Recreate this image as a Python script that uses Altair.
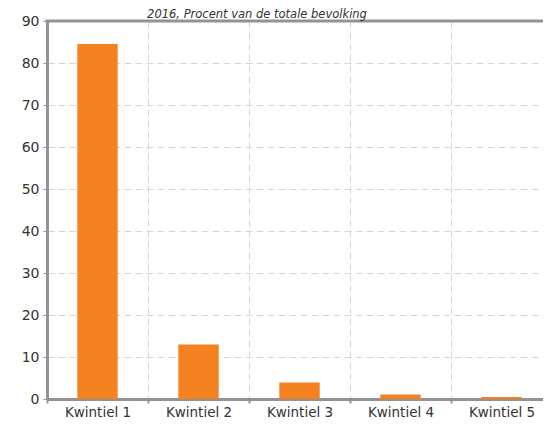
import altair as alt
import pandas as pd

categories = ["Kwintiel 1", "Kwintiel 2", "Kwintiel 3", "Kwintiel 4", "Kwintiel 5"]
values = [84.5, 13.0, 3.9, 1.1, 0.5]
subtitle = "2016, Procent van de totale bevolking"
y_ticks = [0, 10, 20, 30, 40, 50, 60, 70, 80, 90]

df = pd.DataFrame({"cat": categories, "val": values})

FONT = "DejaVu Sans"
AXIS_GRAY = "#939393"
GRID_GRAY = "#d6d6d6"
TEXT = "#333333"
HALF_GAP = 30.3  # half of the inner band padding (0.3 * step of 101px)

bars = alt.Chart(df).mark_bar(color="#F58220").encode(
    x=alt.X("cat:N", sort=categories, title=None,
            scale=alt.Scale(paddingInner=0.6, paddingOuter=0.3, range=[0, 505]),
            axis=alt.Axis(labelAngle=0, bandPosition=0, tickOffset=-HALF_GAP,
                          labelOffset=HALF_GAP, grid=True,
                          gridDash=[7, 4], gridColor=GRID_GRAY, gridWidth=1,
                          domainColor=AXIS_GRAY, domainWidth=3,
                          tickColor=AXIS_GRAY, tickWidth=2, tickSize=4,
                          labelFont=FONT, labelFontSize=13.5, labelColor=TEXT,
                          labelPadding=2)),
    y=alt.Y("val:Q", title=None,
            scale=alt.Scale(domain=[0, 90], nice=False),
            axis=alt.Axis(values=y_ticks, grid=True, gridDash=[7, 4],
                          gridColor=GRID_GRAY, gridWidth=1,
                          domainColor=AXIS_GRAY, domainWidth=3,
                          tickColor=AXIS_GRAY, tickWidth=1, tickSize=4,
                          labelFont=FONT, labelFontSize=14, labelColor=TEXT,
                          labelPadding=4)),
)

one = pd.DataFrame({"t": [subtitle]})
top_border = alt.Chart(one).mark_rule(color=AXIS_GRAY, strokeWidth=3).encode(
    x=alt.value(-1.5), x2=alt.value(505), y=alt.value(0)
)

title = alt.Chart(one).mark_text(
    font=FONT, fontSize=11.5, fontStyle="italic", color=TEXT,
    baseline="alphabetic", align="center"
).encode(text="t:N", x=alt.value(210), y=alt.value(-3.5))

chart = alt.layer(bars, top_border, title).properties(
    width=496, height=378,
    autosize=alt.AutoSizeParams(type="none"),
    padding={"left": 39, "top": 13, "right": 0, "bottom": 20},
).configure_view(strokeWidth=0)

chart.save("out.html", embed_options={"renderer": "svg", "actions": False})
